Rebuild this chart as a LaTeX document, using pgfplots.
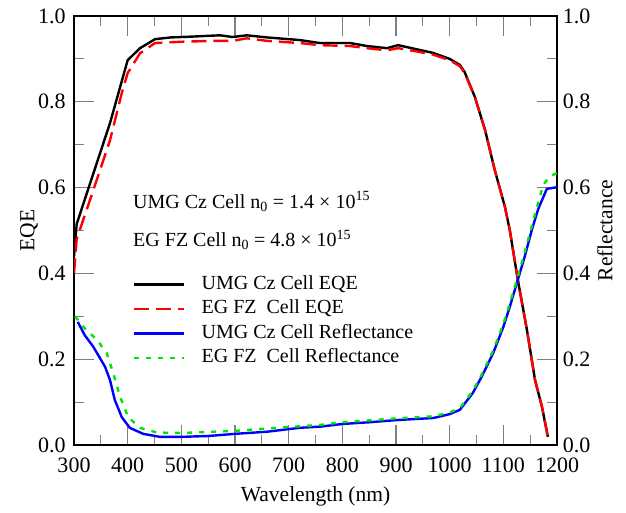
\documentclass[border=0pt]{standalone}
\usepackage{fontspec}
\setmainfont{Liberation Serif}
\usepackage{pgfplots}
\pgfplotsset{compat=1.18}
\usetikzlibrary{calc}
\definecolor{lgreen}{RGB}{0,230,0}

\newcommand{\fs}{\fontsize{20bp}{24bp}\selectfont}
\newcommand{\fst}{\fontsize{22bp}{26bp}\selectfont}
\newcommand{\fsl}{\fontsize{21.5bp}{26bp}\selectfont}

\begin{document}
\fs
\begin{tikzpicture}
\begin{axis}[
  scale only axis, width=483bp, height=429bp,
  xmin=300, xmax=1200, ymin=0, ymax=1,
  every tick/.append style={line width=1.1bp},
  every outer x axis line/.append style={line width=1.1bp},
  every outer y axis line/.append style={line width=1.1bp},
  tick label style={font=\fst},
  label style={font=\fsl},
  /pgf/number format/assume math mode=true,
  /pgf/number format/1000 sep={},
  ytick={0,0.2,0.4,0.6,0.8,1.0},
  yticklabel style={/pgf/number format/fixed, /pgf/number format/fixed zerofill, /pgf/number format/precision=1, xshift=-1.5bp},
  xtick={300,400,...,1200},
  minor x tick num=1, minor y tick num=1,
  major tick length=20bp, minor tick length=10bp,
  xticklabel style={yshift=-6bp},
  xlabel={Wavelength (nm)},
  ylabel={EQE},
  x label style={at={(axis description cs:0.5,-0.119)}, anchor=center},
  y label style={at={(axis description cs:-0.093,0.5)}, anchor=center},
  legend style={draw=none, fill=none, at={(axis cs:410,0.396)}, anchor=north west,
    inner sep=0pt, row sep=6.5bp, font=\fs,
    nodes={inner sep=0pt, text height=14bp, text depth=4bp},
    /tikz/every odd column/.append style={column sep=16bp}},
  legend cell align=left,
  legend image code/.code={\draw[#1] (0bp,0bp) -- (50bp,0bp);},
]
% UMG Cz EQE
\addplot[black, line width=2.4bp] coordinates {
(300,0.44)(305,0.515)(330,0.61)(367,0.75)(400,0.897)(423,0.925)(451,0.946)
(480,0.950)(520,0.952)(572,0.955)(596,0.951)(622,0.955)(660,0.950)(720,0.944)
(758,0.937)(814,0.937)(846,0.930)(883,0.925)(904,0.932)(940,0.922)(969,0.914)
(1000,0.900)(1019,0.886)(1028,0.869)(1047,0.811)(1066,0.734)(1084,0.641)
(1103,0.555)(1112,0.501)(1127,0.385)(1144,0.268)(1159,0.152)(1172,0.089)(1183,0.019)
};
\addlegendentry{UMG Cz Cell EQE}
% EG FZ EQE
\addplot[red, line width=2.4bp, dash pattern=on 15bp off 7bp] coordinates {
(300,0.40)(305,0.48)(336,0.594)(367,0.71)(389,0.82)(400,0.867)(423,0.913)
(451,0.937)(500,0.940)(560,0.942)(596,0.942)(622,0.948)(660,0.942)(720,0.937)
(758,0.932)(814,0.930)(846,0.925)(883,0.920)(904,0.925)(940,0.917)(969,0.910)
(1000,0.897)(1019,0.883)(1028,0.867)(1047,0.811)(1066,0.734)(1084,0.641)
(1103,0.555)(1112,0.501)(1127,0.385)(1144,0.268)(1159,0.152)(1172,0.089)(1183,0.019)
};
\addlegendentry{EG FZ\ \ Cell EQE}
% UMG Cz reflectance
\addplot[blue, line width=2.4bp] coordinates {
(307,0.287)(320,0.256)(336,0.229)(358,0.182)(367,0.152)(376,0.105)(389,0.065)
(404,0.040)(429,0.026)(460,0.019)(500,0.019)(550,0.021)(600,0.026)(660,0.031)
(720,0.040)(760,0.043)(800,0.049)(850,0.053)(900,0.058)(970,0.063)(1000,0.072)
(1019,0.082)(1043,0.121)(1060,0.16)(1081,0.214)(1100,0.275)(1112,0.322)
(1127,0.385)(1140,0.44)(1153,0.501)(1165,0.55)(1181,0.597)(1200,0.601)
};
\addlegendentry{UMG Cz Cell Reflectance}
% EG FZ reflectance
\addplot[lgreen, line width=2.4bp, dash pattern=on 5bp off 7bp] coordinates {
(302,0.30)(311,0.285)(320,0.272)(343,0.245)(361,0.214)(373,0.168)(386,0.112)
(401,0.065)(423,0.040)(455,0.029)(500,0.028)(600,0.033)(700,0.042)(760,0.047)
(800,0.053)(900,0.062)(970,0.067)(1000,0.076)(1019,0.086)(1043,0.126)(1060,0.165)
(1081,0.22)(1100,0.282)(1112,0.33)(1127,0.392)(1140,0.45)(1153,0.51)(1165,0.565)
(1174,0.605)(1185,0.625)(1200,0.634)
};
\addlegendentry{EG FZ\ \ Cell Reflectance}
\node[anchor=base west, inner sep=0pt, font=\fs] at (axis cs:410,0.552)
  {UMG Cz Cell n\textsubscript{0} = 1.4 × 10\textsuperscript{15}};
\node[anchor=base west, inner sep=0pt, font=\fs] at (axis cs:410,0.462)
  {EG FZ Cell n\textsubscript{0} = 4.8 × 10\textsuperscript{15}};
\end{axis}
\begin{axis}[
  scale only axis, width=483bp, height=429bp,
  xmin=300, xmax=1200, ymin=0, ymax=1,
  hide x axis,
  axis y line*=right,
  ytick={0,0.2,0.4,0.6,0.8,1.0},
  major tick length=0pt,
  tick label style={font=\fst},
  label style={font=\fsl},
  /pgf/number format/assume math mode=true,
  yticklabel style={/pgf/number format/fixed, /pgf/number format/fixed zerofill, /pgf/number format/precision=1, xshift=-1bp},
  ylabel={Reflectance},
  y label style={at={(axis description cs:1.099,0.5)}, anchor=center},
]
\end{axis}
\path ($(current axis.south west)+(-74bp,-66bp)$) rectangle ($(current axis.north east)+(69bp,16bp)$);
\end{tikzpicture}
\end{document}
